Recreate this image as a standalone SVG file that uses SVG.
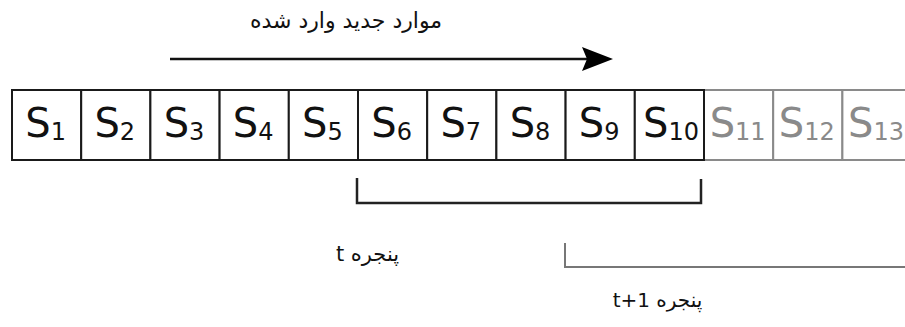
<svg xmlns="http://www.w3.org/2000/svg" width="905" height="327" viewBox="0 0 905 327">
<style>
.cell{fill:#fff;stroke:#1a1a1a;stroke-width:2}
.cellg{fill:#fff;stroke:#8a8a8a;stroke-width:2}
.s{font-family:"DejaVu Sans",sans-serif;font-size:40px;fill:#111;text-anchor:middle}
.sg{fill:#8a8a8a}
.sub{font-size:24px}
.fa{font-family:"DejaVu Sans",sans-serif;fill:#111;text-anchor:middle}
.br{fill:none;stroke:#222;stroke-width:2.5}
.brg{fill:none;stroke:#777;stroke-width:2}
</style>
<rect width="905" height="327" fill="#fff"/>
<g id="title"><text class="fa" x="346" y="28" font-size="22" direction="rtl">موارد جدید وارد شده</text></g>
<g id="connectors">
<line x1="170" y1="59" x2="590" y2="59" stroke="#111" stroke-width="2.5"/>
<path d="M582,47 L613,59 L582,71 L587,59 Z" fill="#000"/>
<path class="br" d="M357,178 V203 H701 V179"/>
<path class="brg" d="M565,243 V267 H905"/>
</g>
<g id="s11"><rect class="cellg" x="704" y="90" width="69.2" height="70"/><text class="s sg" x="737.6" y="137">S<tspan class="sub" dy="3">11</tspan></text></g>
<g id="s12"><rect class="cellg" x="773.2" y="90" width="69.2" height="70"/><text class="s sg" x="806.8" y="137">S<tspan class="sub" dy="3">12</tspan></text></g>
<g id="s13"><rect class="cellg" x="842.4" y="90" width="69.2" height="70"/><text class="s sg" x="876" y="137">S<tspan class="sub" dy="3">13</tspan></text></g>
<g id="s1"><rect class="cell" x="12" y="90" width="69.2" height="70"/><text class="s" x="45.6" y="137">S<tspan class="sub" dy="3">1</tspan></text></g>
<g id="s2"><rect class="cell" x="81.2" y="90" width="69.2" height="70"/><text class="s" x="114.8" y="137">S<tspan class="sub" dy="3">2</tspan></text></g>
<g id="s3"><rect class="cell" x="150.4" y="90" width="69.2" height="70"/><text class="s" x="184" y="137">S<tspan class="sub" dy="3">3</tspan></text></g>
<g id="s4"><rect class="cell" x="219.6" y="90" width="69.2" height="70"/><text class="s" x="253.2" y="137">S<tspan class="sub" dy="3">4</tspan></text></g>
<g id="s5"><rect class="cell" x="288.8" y="90" width="69.2" height="70"/><text class="s" x="322.4" y="137">S<tspan class="sub" dy="3">5</tspan></text></g>
<g id="s6"><rect class="cell" x="358" y="90" width="69.2" height="70"/><text class="s" x="391.6" y="137">S<tspan class="sub" dy="3">6</tspan></text></g>
<g id="s7"><rect class="cell" x="427.2" y="90" width="69.2" height="70"/><text class="s" x="460.8" y="137">S<tspan class="sub" dy="3">7</tspan></text></g>
<g id="s8"><rect class="cell" x="496.4" y="90" width="69.2" height="70"/><text class="s" x="530" y="137">S<tspan class="sub" dy="3">8</tspan></text></g>
<g id="s9"><rect class="cell" x="565.6" y="90" width="69.2" height="70"/><text class="s" x="599.2" y="137">S<tspan class="sub" dy="3">9</tspan></text></g>
<g id="s10"><rect class="cell" x="634.8" y="90" width="69.2" height="70"/><text class="s" x="671" y="137">S<tspan class="sub" dy="3">10</tspan></text></g>
<g id="window-t"><text class="fa" x="367.5" y="261" font-size="21" direction="rtl">پنجره t</text></g>
<g id="window-t1"><text class="fa" x="657.5" y="307" font-size="20" direction="rtl">پنجره t+1</text></g>
</svg>
